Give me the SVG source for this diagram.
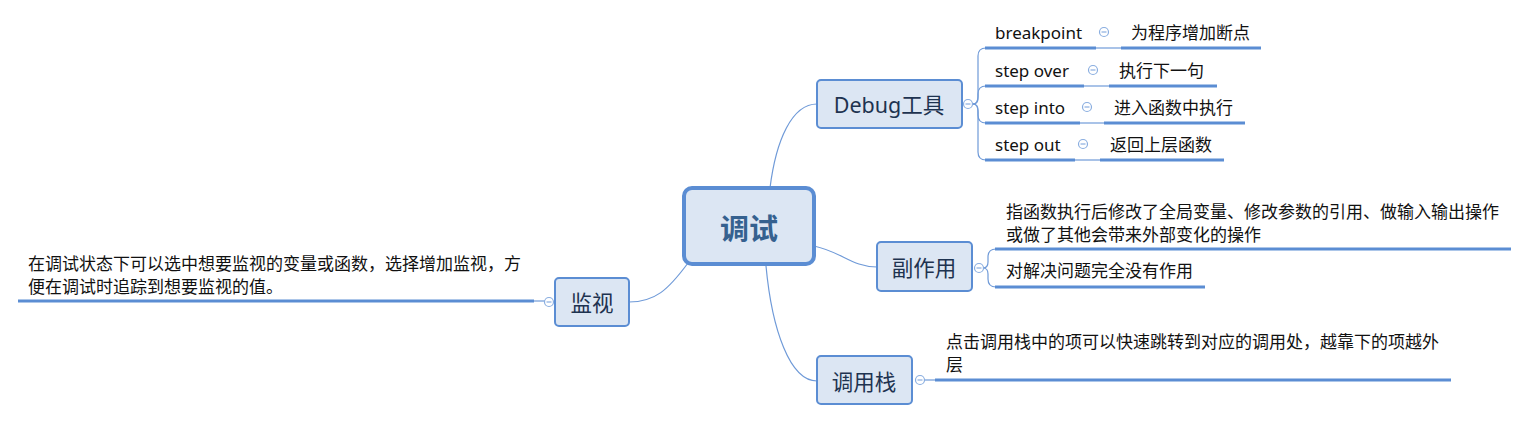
<svg xmlns="http://www.w3.org/2000/svg" width="1529" height="421" viewBox="0 0 1529 421">
<defs>
<style>
.box{fill:#dce6f3;stroke:#5b8dd3;stroke-width:2}
.root{fill:#dce6f3;stroke:#5b8dd3;stroke-width:4}
.lbl{font-family:"Noto Sans","Noto Sans CJK SC",sans-serif;font-size:21.5px;fill:#1e3350;text-anchor:middle;dominant-baseline:central}
.rootlbl{font-family:"Noto Sans CJK SC",sans-serif;font-size:29px;font-weight:bold;fill:#35618f;text-anchor:middle;dominant-baseline:central}
.t{font-family:"Noto Sans","Noto Sans CJK SC",sans-serif;font-size:17px;fill:#111;dominant-baseline:central}
.ul{stroke:#5b8dd3;stroke-width:3;fill:none}
.con{stroke:#6f9ad8;stroke-width:1.2;fill:none}
.cc{fill:#fff;stroke:#8aaee0;stroke-width:1.2}
.cm{stroke:#8aaee0;stroke-width:1.2}
</style>
</defs>
<g id="connectors">
<path class="con" d="M770,188 C776,140 792,104 817,104"/>
<path class="con" d="M814,246 C842,252 852,267 877,267"/>
<path class="con" d="M766,266 C772,330 790,381 817,381"/>
<path class="con" d="M688,263 C668,290 655,302 629,302"/>
<path class="con" d="M973,104 Q978,104 978,96 L978,56 Q978,48 986,48"/>
<path class="con" d="M973,104 Q978,104 978,98 L978,94 Q978,86 986,86"/>
<path class="con" d="M973,104 Q978,104 978,110 L978,115 Q978,123 986,123"/>
<path class="con" d="M973,104 Q978,104 978,112 L978,152 Q978,160 986,160"/>
<path class="con" d="M983,268 Q988,268 988,262 L988,257 Q988,249 996,249"/>
<path class="con" d="M983,268 Q988,268 988,274 L988,279 Q988,287 996,287"/>
<path class="con" d="M1096,48 L1122,48"/>
<path class="con" d="M1084,86 L1110,86"/>
<path class="con" d="M1080,123 L1105,123"/>
<path class="con" d="M1075,160 L1101,160"/>
<path class="con" d="M924,380 L936,380"/>
<path class="con" d="M534,301 L545,301"/>
</g>
<g id="root">
<rect class="root" x="684" y="188" width="130" height="76" rx="8"/>
<text class="rootlbl" x="749" y="227">调试</text>
</g>
<g id="debug">
<rect class="box" x="817" y="80" width="145" height="48" rx="4"/>
<text class="lbl" x="889" y="104">Debug工具</text>
<circle class="cc" cx="968" cy="104" r="4.5"/><line class="cm" x1="965.5" y1="104" x2="970.5" y2="104"/>
</g>
<g id="breakpoint">
<text class="t" x="995" y="32">breakpoint</text>
<path class="ul" d="M985,48 H1096"/>
<circle class="cc" cx="1104" cy="32" r="4.5"/><line class="cm" x1="1101.5" y1="32" x2="1106.5" y2="32"/>
</g>
<g id="breakpoint-desc">
<text class="t" x="1131" y="32">为程序增加断点</text>
<path class="ul" d="M1121,48 H1261"/>
</g>
<g id="stepover">
<text class="t" x="995" y="70">step over</text>
<path class="ul" d="M985,86 H1084"/>
<circle class="cc" cx="1093" cy="70" r="4.5"/><line class="cm" x1="1090.5" y1="70" x2="1095.5" y2="70"/>
</g>
<g id="stepover-desc">
<text class="t" x="1119" y="70">执行下一句</text>
<path class="ul" d="M1109,86 H1217"/>
</g>
<g id="stepinto">
<text class="t" x="995" y="107">step into</text>
<path class="ul" d="M985,123 H1080"/>
<circle class="cc" cx="1087" cy="107" r="4.5"/><line class="cm" x1="1084.5" y1="107" x2="1089.5" y2="107"/>
</g>
<g id="stepinto-desc">
<text class="t" x="1114" y="107">进入函数中执行</text>
<path class="ul" d="M1104,123 H1245"/>
</g>
<g id="stepout">
<text class="t" x="995" y="144">step out</text>
<path class="ul" d="M985,160 H1075"/>
<circle class="cc" cx="1083" cy="144" r="4.5"/><line class="cm" x1="1080.5" y1="144" x2="1085.5" y2="144"/>
</g>
<g id="stepout-desc">
<text class="t" x="1110" y="144">返回上层函数</text>
<path class="ul" d="M1100,160 H1224"/>
</g>
<g id="side">
<rect class="box" x="877" y="242" width="95" height="49" rx="4"/>
<text class="lbl" x="924" y="267">副作用</text>
<circle class="cc" cx="979" cy="268" r="4.5"/><line class="cm" x1="976.5" y1="268" x2="981.5" y2="268"/>
</g>
<g id="side-1">
<text class="t" x="1006" y="211">指函数执行后修改了全局变量、修改参数的引用、做输入输出操作</text>
<text class="t" x="1006" y="234">或做了其他会带来外部变化的操作</text>
<path class="ul" d="M995,249 H1511"/>
</g>
<g id="side-2">
<text class="t" x="1006" y="270">对解决问题完全没有作用</text>
<path class="ul" d="M995,287 H1205"/>
</g>
<g id="watch">
<rect class="box" x="555" y="278" width="74" height="48" rx="4"/>
<text class="lbl" x="592" y="302">监视</text>
<circle class="cc" cx="549" cy="302" r="4.5"/><line class="cm" x1="546.5" y1="302" x2="551.5" y2="302"/>
</g>
<g id="watch-1">
<text class="t" x="28" y="263">在调试状态下可以选中想要监视的变量或函数，选择增加监视，方</text>
<text class="t" x="28" y="286">便在调试时追踪到想要监视的值。</text>
<path class="ul" d="M18,301 H534"/>
</g>
<g id="stack">
<rect class="box" x="817" y="356" width="95" height="48" rx="4"/>
<text class="lbl" x="864" y="381">调用栈</text>
<circle class="cc" cx="920" cy="380" r="4.5"/><line class="cm" x1="917.5" y1="380" x2="922.5" y2="380"/>
</g>
<g id="stack-1">
<text class="t" x="946" y="341">点击调用栈中的项可以快速跳转到对应的调用处，越靠下的项越外</text>
<text class="t" x="946" y="364">层</text>
<path class="ul" d="M935,380 H1451"/>
</g>
</svg>
